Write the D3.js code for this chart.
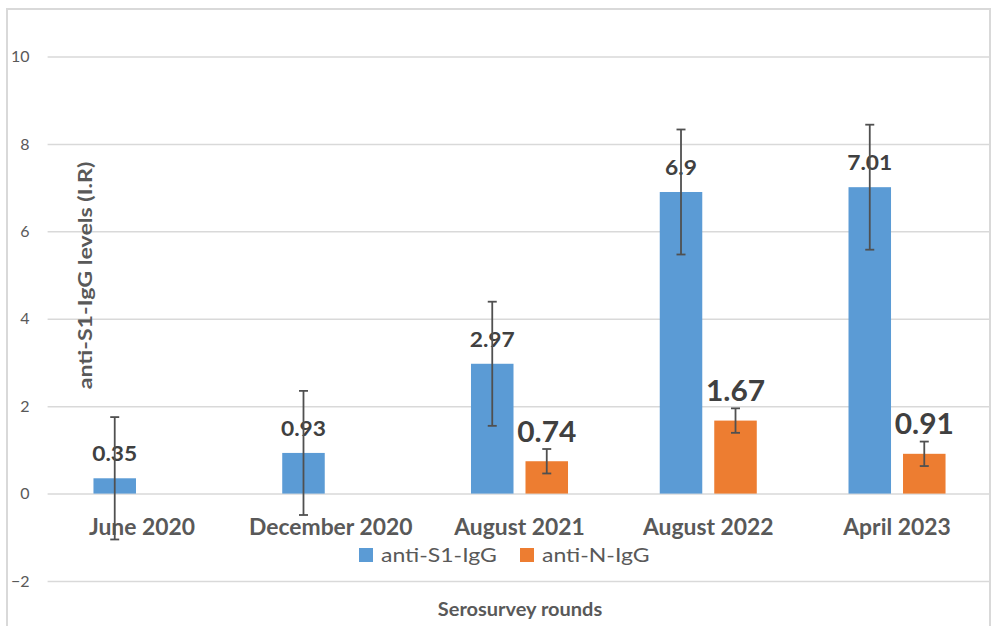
<!DOCTYPE html>
<html>
<head>
<meta charset="utf-8">
<script src="https://cdn.jsdelivr.net/npm/d3@7/dist/d3.min.js"></script>
<style>
  html, body { margin: 0; padding: 0; background: #fff; }
  svg { display: block; font-family: Lato, "Open Sans", sans-serif; }
</style>
</head>
<body>
<svg id="chart" width="992" height="626"></svg>
<script>
// Serosurvey rounds and mean antibody levels (index ratio)
const categories = ["June 2020", "December 2020", "August 2021", "August 2022", "April 2023"];
const seriesNames = ["anti-S1-IgG", "anti-N-IgG"];
const s1Values = [0.35, 0.93, 2.97, 6.9, 7.01];
const nValues = [null, null, 0.74, 1.67, 0.91];
const s1Errors = [1.4, 1.42, 1.42, 1.43, 1.43];
const nErrors = [null, null, 0.28, 0.28, 0.28];
const yTicks = [-2, 0, 2, 4, 6, 8, 10];

const colors = { "anti-S1-IgG": "#5B9BD5", "anti-N-IgG": "#ED7D31" };
const labelSize = { "anti-S1-IgG": 20.7, "anti-N-IgG": 27.7 };
const labelStretch = { "anti-S1-IgG": 1.1, "anti-N-IgG": 1.08 };
const labelGap = { "anti-S1-IgG": 17, "anti-N-IgG": 19.5 };

const svg = d3.select("#chart");
const plot = { left: 47.6, right: 990, top: 56.5, bottom: 581 };

// slightly wide lettering: position with a transform and stretch horizontally
const place = (x, y, sx, rot) => `translate(${x},${y})${rot ? ` rotate(${rot})` : ""} scale(${sx},1)`;

// chart frame
svg.append("rect")
  .attr("x", 7).attr("y", 9).attr("width", 983).attr("height", 640)
  .attr("fill", "#fff").attr("stroke", "#d9d9d9").attr("stroke-width", 2);

const y = d3.scaleLinear().domain([-2, 10]).range([plot.bottom, plot.top]);
const x0 = d3.scaleBand().domain(categories).range([plot.left, 991.4])
  .paddingInner(0.486).paddingOuter(0.243);
const x1 = d3.scaleBand().domain(seriesNames).range([0, x0.bandwidth()]).paddingInner(0.22);

// gridlines and y tick labels
const yAxis = d3.axisLeft(y).tickValues(yTicks).tickSize(-(plot.right - plot.left)).tickPadding(18);
const gy = svg.append("g").attr("transform", `translate(${plot.left},0)`).call(yAxis);
gy.select(".domain").remove();
gy.selectAll(".tick line").attr("stroke", "#d9d9d9").attr("stroke-width", 1.5);
gy.selectAll(".tick text")
  .attr("fill", "#595959").attr("font-size", 16).attr("font-family", "Lato, sans-serif");

const rows = categories.map((c, i) => ({
  cat: c,
  vals: [
    { key: "anti-S1-IgG", v: s1Values[i], e: s1Errors[i] },
    { key: "anti-N-IgG", v: nValues[i], e: nErrors[i] }
  ].filter(d => d.v != null)
}));

// category labels sit just below the zero line
svg.append("g").selectAll("text").data(categories).join("text")
  .attr("transform", d => place(x0(d) + x0.bandwidth() / 2, y(0) + 41.5, 1.04))
  .attr("text-anchor", "middle")
  .attr("font-size", 22).attr("font-weight", 700).attr("fill", "#595959")
  .text(d => d);

const groups = svg.append("g").selectAll("g").data(rows).join("g")
  .attr("transform", d => `translate(${x0(d.cat)},0)`);

// bars
groups.selectAll("rect").data(d => d.vals).join("rect")
  .attr("x", d => x1(d.key))
  .attr("width", x1.bandwidth())
  .attr("y", d => y(Math.max(0, d.v)))
  .attr("height", d => Math.abs(y(d.v) - y(0)))
  .attr("fill", d => colors[d.key]);

// value labels
groups.selectAll("text.val").data(d => d.vals).join("text")
  .attr("class", "val")
  .attr("transform", d => place(x1(d.key) + x1.bandwidth() / 2, y(d.v) - labelGap[d.key], labelStretch[d.key]))
  .attr("text-anchor", "middle")
  .attr("font-size", d => labelSize[d.key]).attr("font-weight", 700).attr("fill", "#404040")
  .text(d => d.v);

// error bars
const eb = groups.selectAll("g.err").data(d => d.vals).join("g").attr("class", "err")
  .attr("stroke", "#505050").attr("stroke-width", 1.8);
eb.append("line")
  .attr("x1", d => x1(d.key) + x1.bandwidth() / 2).attr("x2", d => x1(d.key) + x1.bandwidth() / 2)
  .attr("y1", d => y(d.v + d.e)).attr("y2", d => y(d.v - d.e));
[1, -1].forEach(s => {
  eb.append("line")
    .attr("x1", d => x1(d.key) + x1.bandwidth() / 2 - 4.5)
    .attr("x2", d => x1(d.key) + x1.bandwidth() / 2 + 4.5)
    .attr("y1", d => y(d.v + s * d.e)).attr("y2", d => y(d.v + s * d.e));
});

// legend
const legendX = [359, 520];
const lg = svg.append("g").selectAll("g").data(seriesNames).join("g")
  .attr("transform", (d, i) => `translate(${legendX[i]},548)`);
lg.append("rect").attr("width", 14).attr("height", 14).attr("fill", d => colors[d]);
lg.append("text").attr("transform", place(22, 13.5, 1.18))
  .attr("font-size", 19.5).attr("fill", "#595959").text(d => d);

// axis titles
svg.append("text")
  .attr("transform", place(520, 615.5, 1.11))
  .attr("text-anchor", "middle")
  .attr("font-size", 18).attr("font-weight", 700).attr("fill", "#595959")
  .text("Serosurvey rounds");
svg.append("text")
  .attr("transform", place(92, 275.5, 1.22, -90))
  .attr("text-anchor", "middle")
  .attr("font-size", 19).attr("font-weight", 700).attr("fill", "#595959")
  .text("anti-S1-IgG levels (I.R)");
</script>
</body>
</html>
